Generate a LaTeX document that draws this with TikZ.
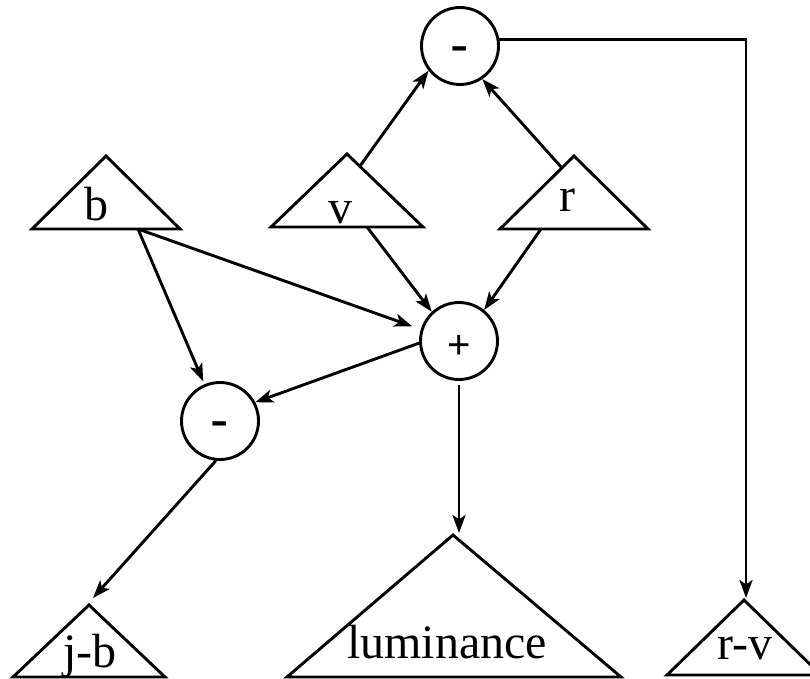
\documentclass[tikz,border=0pt]{standalone}
\usepackage{fontspec}
\setmainfont{Liberation Serif}
\newfontfamily\opfont{Liberation Sans}
\usetikzlibrary{arrows.meta}
\begin{document}
\begin{tikzpicture}[x=1pt,y=-1pt,line width=2.9pt,
  op/.style={draw,circle,minimum size=77pt,inner sep=0pt,text height=0pt,text depth=0pt},
  lbl/.style={anchor=base,inner sep=0pt,font=\fontsize{48}{48}\selectfont},
  tri/.style={line join=miter},
  conn/.style={-{Stealth[length=18pt,width=13pt,inset=4.5pt]}}]
\useasboundingbox (0,0) rectangle (810,679);
\clip (0,0) rectangle (810,679);
% triangles
\draw[tri] (106,156) -- (180,229) -- (32,229) -- cycle;
\draw[tri] (347,154) -- (423,227) -- (271,227) -- cycle;
\draw[tri] (574,156) -- (648,229) -- (500,229) -- cycle;
\draw[tri] (89,605) -- (165,677) -- (13,677) -- cycle;
\draw[tri] (453,535) -- (621,677) -- (287,677) -- cycle;
\draw[tri] (744,600) -- (821,675) -- (667,675) -- cycle;
% labels
\node[lbl] (tb) at (96,220) {b};
\node[lbl] (tv) at (340,223) {v};
\node[lbl] (tr) at (567,211) {r};
\node[lbl] (tjb) at (90,667) {j-b};
\node[lbl] (tlum) at (447,658) {luminance};
\node[lbl] (trv) at (745,659) {r-v};
% operators
\node[op] (topm) at (460,46) {\opfont\fontsize{55}{55}\selectfont\raisebox{-17.7pt}{-}};
\node[op] (plus) at (459,341) {\opfont\fontsize{40}{40}\selectfont\raisebox{-17.5pt}{+}};
\node[op] (lowm) at (220,421) {\opfont\fontsize{55}{55}\selectfont\raisebox{-17.7pt}{-}};
% connector ends on triangles
\coordinate (vtop) at (360,166);
\coordinate (rtop) at (562,168);
\coordinate (vbot) at (367,227);
\coordinate (rbot) at (541,229);
\coordinate (bbot) at (138,229);
\coordinate (jbtip) at (93,598);
\coordinate (lumtip) at (459,533);
\coordinate (rvtip) at (746,598);
% connectors
\draw[conn] (vtop) -- (topm.218);
\draw[conn] (rtop) -- (topm.304);
\draw[conn] (vbot) -- (plus.133);
\draw[conn] (rbot) -- (plus.51);
\draw[conn,shorten >=9pt] (bbot) -- (plus.163);
\draw[conn,shorten >=3pt] (bbot) -- (lowm.113);
\draw[conn] (plus.183) -- (lowm.28);
\draw[conn] (lowm.264) -- (jbtip);
\draw[conn,shorten <=4pt] (plus.south) -- (lumtip);
\draw[conn] (topm.10) -| (rvtip);
\end{tikzpicture}
\end{document}
